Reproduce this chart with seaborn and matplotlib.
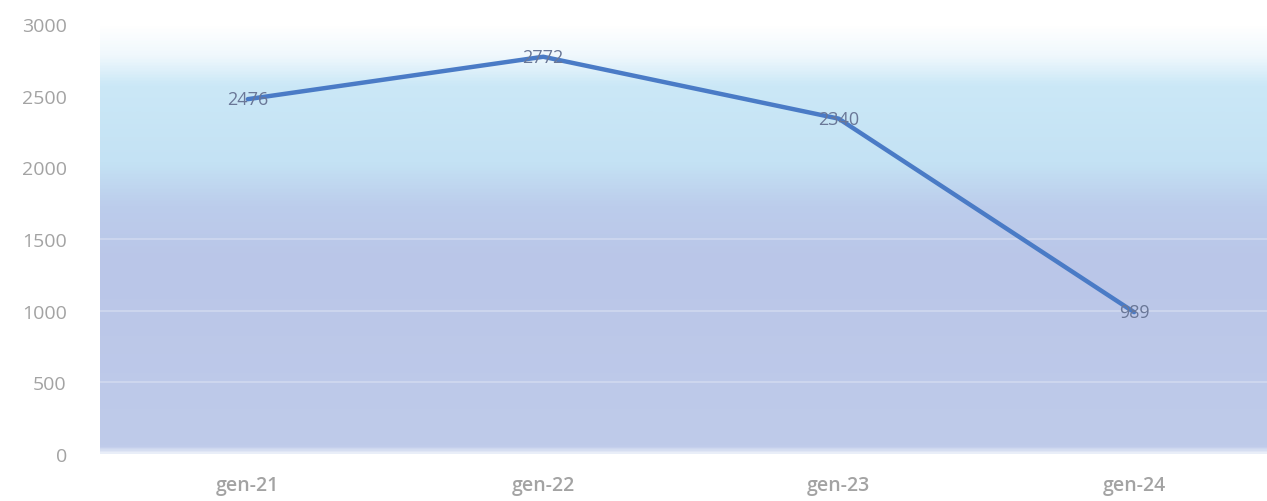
import numpy as np
import pandas as pd
import seaborn as sns
import matplotlib.pyplot as plt
from matplotlib.colors import LinearSegmentedColormap

months = ["gen-21", "gen-22", "gen-23", "gen-24"]
values = [2476, 2772, 2340, 989]

sns.set_style("white")
plt.rcParams['font.family'] = ['Open Sans', 'DejaVu Sans']

df = pd.DataFrame({"month": months, "value": values})

fig = plt.figure(figsize=(12.67, 5.02), dpi=100)
ax = fig.add_axes([0.079, 0.094, 0.921, 0.856])

# soft background gradient (white -> light blue -> lavender)
stops = [(0.0, "#f4f7fc"), (0.02, "#bfcbea"), (0.45, "#bac6e8"), (0.58, "#bccdec"),
         (0.68, "#c4e2f4"), (0.86, "#cbe8f7"), (0.93, "#f0f8fd"), (1.0, "#ffffff")]
cmap = LinearSegmentedColormap.from_list("bg", stops)
grad = np.linspace(0, 1, 400).reshape(-1, 1)
ax.imshow(grad, cmap=cmap, origin="lower", aspect="auto",
          extent=[-0.5, 3.5, -15, 3000], zorder=0)

for g in [500, 1000, 1500]:
    ax.axhline(g, color="white", alpha=0.3, lw=1.2, zorder=1)

sns.lineplot(data=df, x="month", y="value", ax=ax, color="#4a7bc6",
             linewidth=3.2, sort=False, zorder=3)

for i, v in enumerate(values):
    ax.text(i, v, str(v), ha="center", va="center", fontsize=13,
            color="#6a7797", zorder=4)

ax.set_xlim(-0.5, 3.45)
ax.set_ylim(0, 3000)
ax.set_yticks(range(0, 3001, 500))
ax.set_xlabel("")
ax.set_ylabel("")
ax.tick_params(axis="both", colors="#a3a3a3", labelsize=14, length=0)
ax.tick_params(axis="y", pad=24)
ax.tick_params(axis="x", pad=15)
for lab in ax.get_xticklabels():
    lab.set_fontweight("semibold")
for s in ax.spines.values():
    s.set_visible(False)

fig.savefig("out.png", dpi=100)
